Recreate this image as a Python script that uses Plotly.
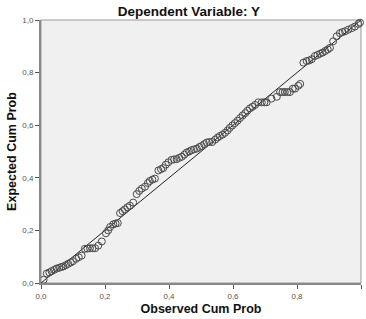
import plotly.graph_objects as go

observed = [0.008, 0.018, 0.026, 0.033, 0.041, 0.049, 0.057, 0.064, 0.070, 0.078,
            0.085, 0.093, 0.100, 0.110, 0.118, 0.127, 0.137, 0.145, 0.153, 0.161,
            0.169, 0.179, 0.190, 0.203, 0.210, 0.216, 0.226, 0.233, 0.240, 0.247,
            0.255, 0.262, 0.270, 0.278, 0.288, 0.299, 0.307, 0.315, 0.325, 0.334,
            0.340, 0.348, 0.356, 0.367, 0.375, 0.382, 0.390, 0.398, 0.408, 0.416,
            0.424, 0.432, 0.440, 0.448, 0.455, 0.463, 0.470, 0.478, 0.487, 0.495,
            0.502, 0.510, 0.518, 0.526, 0.535, 0.544, 0.552, 0.559, 0.567, 0.575,
            0.583, 0.590, 0.598, 0.606, 0.614, 0.622, 0.630, 0.638, 0.645, 0.653,
            0.661, 0.669, 0.679, 0.690, 0.698, 0.705, 0.720, 0.737, 0.747, 0.755,
            0.762, 0.770, 0.778, 0.787, 0.794, 0.804, 0.810, 0.820, 0.830, 0.838,
            0.846, 0.856, 0.864, 0.872, 0.880, 0.888, 0.896, 0.903, 0.913, 0.924,
            0.934, 0.942, 0.950, 0.960, 0.971, 0.981, 0.992, 0.997]
expected = [0.012, 0.036, 0.040, 0.045, 0.050, 0.055, 0.058, 0.061, 0.063, 0.068,
            0.073, 0.078, 0.083, 0.092, 0.098, 0.104, 0.130, 0.131, 0.132, 0.132,
            0.132, 0.142, 0.158, 0.189, 0.200, 0.213, 0.223, 0.226, 0.228, 0.266,
            0.273, 0.280, 0.288, 0.294, 0.306, 0.338, 0.350, 0.359, 0.366, 0.380,
            0.388, 0.393, 0.397, 0.428, 0.433, 0.437, 0.450, 0.459, 0.468, 0.470,
            0.471, 0.476, 0.480, 0.488, 0.496, 0.500, 0.505, 0.508, 0.511, 0.517,
            0.521, 0.528, 0.534, 0.536, 0.536, 0.545, 0.553, 0.559, 0.564, 0.571,
            0.580, 0.590, 0.599, 0.608, 0.617, 0.627, 0.637, 0.646, 0.655, 0.664,
            0.670, 0.677, 0.687, 0.687, 0.687, 0.687, 0.701, 0.708, 0.726, 0.726,
            0.726, 0.726, 0.726, 0.739, 0.739, 0.750, 0.757, 0.838, 0.844, 0.846,
            0.851, 0.863, 0.867, 0.872, 0.876, 0.882, 0.888, 0.894, 0.919, 0.938,
            0.950, 0.954, 0.957, 0.963, 0.969, 0.975, 0.985, 0.990]

ref_line = [0.0, 1.0]
tick_vals = [0.0, 0.2, 0.4, 0.6, 0.8, 1.0]
tick_text = ["0,0", "0,2", "0,4", "0,6", "0,8", "1,0"]

FONT = "Liberation Sans, Arial, sans-serif"

fig = go.Figure()
fig.add_trace(go.Scatter(x=ref_line, y=ref_line, mode="lines",
                         line=dict(color="#222222", width=1), cliponaxis=False,
                         hoverinfo="skip", showlegend=False))
fig.add_trace(go.Scatter(x=observed, y=expected, mode="markers", cliponaxis=False,
                         marker=dict(symbol="circle-open", size=7,
                                     color="#4a4a4a", line=dict(width=1, color="#4a4a4a")),
                         showlegend=False))

axis_common = dict(range=[0, 1], tickvals=tick_vals, ticktext=tick_text,
                   ticks="outside", ticklen=4, tickwidth=1, tickcolor="#555555",
                   showgrid=False, zeroline=False, showline=True,
                   linecolor="#888888", linewidth=2, mirror=False,
                   tickfont=dict(family=FONT, size=8, color="#555555"))

fig.update_layout(
    width=366, height=319,
    margin=dict(l=41, r=5, t=20, b=31),
    paper_bgcolor="white", plot_bgcolor="#f0f0f0",
    title=dict(text="<b>Dependent Variable: Y</b>", x=0.516, xanchor="center",
               y=0.965, yanchor="middle", font=dict(family=FONT, size=13.5, color="#111111")),
    xaxis=dict(**axis_common,
               title=dict(text="<b>Observed Cum Prob</b>", standoff=5,
                          font=dict(family=FONT, size=12.5, color="#111111"))),
    yaxis=dict(**axis_common,
               title=dict(text="<b>Expected Cum Prob</b>", standoff=3,
                          font=dict(family=FONT, size=12.5, color="#111111"))),
    shapes=[dict(type="rect", xref="paper", yref="paper", x0=0, y0=0, x1=1, y1=1,
                 line=dict(color="#999999", width=1), layer="below")],
)

fig.write_html("out.html")
